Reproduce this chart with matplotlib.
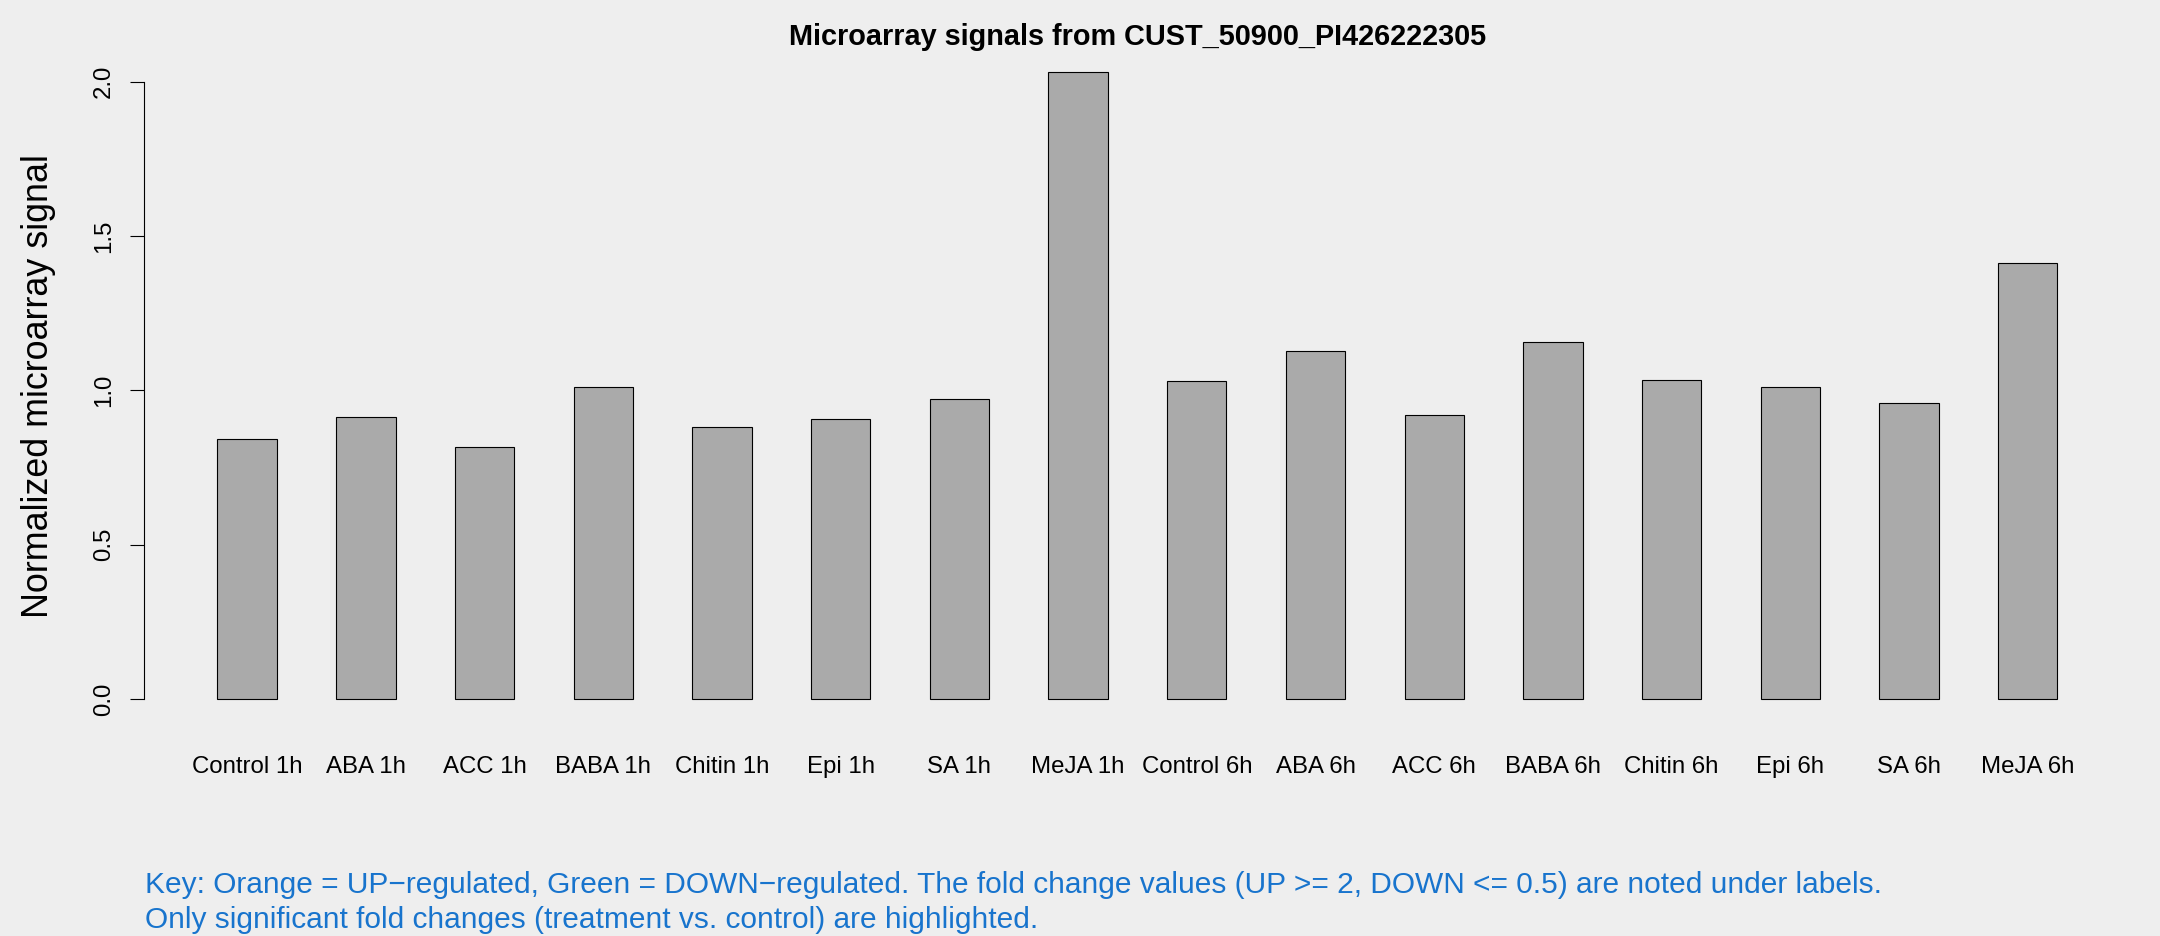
import matplotlib.pyplot as plt
import numpy as np

# sample labels and signal values
labels = ["Control 1h", "ABA 1h", "ACC 1h", "BABA 1h", "Chitin 1h", "Epi 1h", "SA 1h", "MeJA 1h",
          "Control 6h", "ABA 6h", "ACC 6h", "BABA 6h", "Chitin 6h", "Epi 6h", "SA 6h", "MeJA 6h"]
signal = [0.841, 0.914, 0.815, 1.010, 0.881, 0.908, 0.973, 2.031,
          1.030, 1.126, 0.921, 1.155, 1.034, 1.012, 0.960, 1.412]
yticks = [0.0, 0.5, 1.0, 1.5, 2.0]
ytick_labels = ["0.0", "0.5", "1.0", "1.5", "2.0"]

title = "Microarray signals from CUST_50900_PI426222305"
key1 = ("Key: Orange = UP\u2212regulated, Green = DOWN\u2212regulated. The fold change values "
        "(UP >= 2, DOWN <= 0.5) are noted under labels.")
key2 = "Only significant fold changes (treatment vs. control) are highlighted."

plt.rcParams['font.family'] = ['Liberation Sans', 'DejaVu Sans']
bg = '#EEEEEE'

fig = plt.figure(figsize=(21.6, 9.36), dpi=100, facecolor=bg)
ax = fig.add_axes([0.0666, 0.2265, 0.92, 0.7232])
ax.set_facecolor(bg)

# R barplot style: width 1, space 1
x = 1.5 + 2 * np.arange(len(signal))
ax.bar(x, signal, width=1, color='#AAAAAA', edgecolor='black', linewidth=0.8)

ax.set_xlim(-0.24, 33.24)
top = max(signal)
ax.set_ylim(-0.04 * top, 1.04 * top)

for s in ['top', 'right', 'bottom']:
    ax.spines[s].set_visible(False)
ax.spines['left'].set_bounds(0, 2)
ax.spines['left'].set_linewidth(0.8)

ax.set_yticks(yticks)
ax.set_yticklabels(ytick_labels, rotation=90, va='center', fontsize=17.3)
ax.tick_params(axis='y', length=10, width=0.8, pad=11)

ax.set_xticks(x)
ax.set_xticklabels(labels, fontsize=17.3)
ax.tick_params(axis='x', length=0, pad=23)

fig.text(0.5266, 0.961, title, ha='center', va='center', fontsize=20.8, fontweight='bold')
fig.text(0.0179, 0.588, "Normalized microarray signal", rotation=90, ha='center', va='center',
         fontsize=25.8)

fig.text(0.0669, 1 - 885 / 936, key1, ha='left', va='center', fontsize=21.5, color='#1874CD')
fig.text(0.0669, 1 - 920 / 936, key2, ha='left', va='center', fontsize=21.5, color='#1874CD')

plt.savefig('out.png', dpi=100, facecolor=bg)
